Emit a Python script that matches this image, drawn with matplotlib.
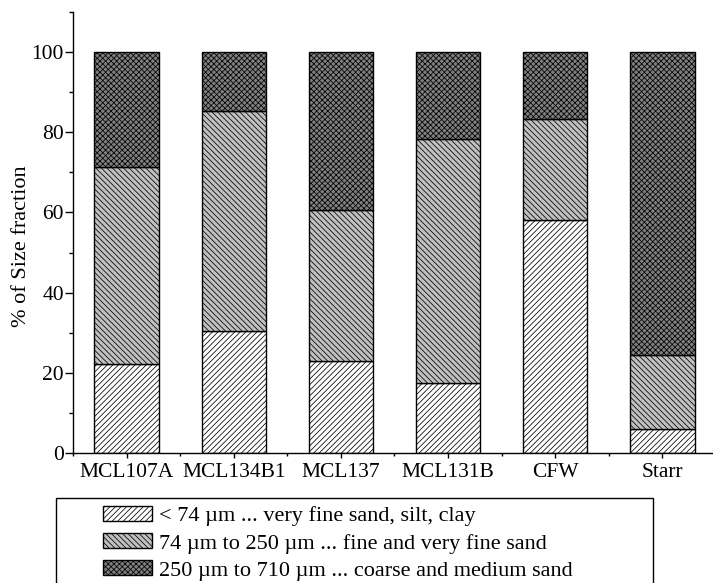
import matplotlib
matplotlib.use("Agg")
import matplotlib.pyplot as plt
from matplotlib.patches import Rectangle
from matplotlib.ticker import MultipleLocator, FixedLocator
import numpy as np

plt.rcParams['font.family'] = ['Liberation Serif', 'DejaVu Serif']
plt.rcParams['hatch.linewidth'] = 0.55

# size fractions (% of sample), stacked bottom to top
samples = ['MCL107A', 'MCL134B1', 'MCL137', 'MCL131B', 'CFW', 'Starr']
fine = [22.1, 30.4, 23.0, 17.5, 58.0, 6.1]          # < 74 um
medium = [49.3, 54.9, 37.6, 60.8, 25.3, 18.4]       # 74-250 um
coarse = [28.6, 14.7, 39.4, 21.7, 16.7, 75.5]       # 250-710 um
labels = ['< 74 µm ... very fine sand, silt, clay',
          '74 µm to 250 µm ... fine and very fine sand',
          '250 µm to 710 µm ... coarse and medium sand']

fig = plt.figure(figsize=(7.13, 5.83), dpi=100)
ax = fig.add_axes([73 / 713, 1 - 453 / 583, 643 / 713, 441 / 583])

x = np.arange(1, len(samples) + 1)
w = 0.6
fine = np.array(fine)
medium = np.array(medium)
coarse = np.array(coarse)

b1 = ax.bar(x, fine, w, color='white', edgecolor='black', hatch='/' * 6,
            linewidth=1, label=labels[0])
b2 = ax.bar(x, medium, w, bottom=fine, color='#c0c0c0', edgecolor='black',
            hatch='\\' * 6, linewidth=1, label=labels[1])
b3 = ax.bar(x, coarse, w, bottom=fine + medium, color='#808080',
            edgecolor='black', hatch='x' * 6, linewidth=1, label=labels[2])

ax.set_xlim(0.5, 6.5)
ax.set_ylim(0, 110)
ax.set_xticks(x)
ax.set_xticklabels(samples, fontsize=15.5)
ax.xaxis.set_minor_locator(FixedLocator(np.arange(0.5, 7, 1.0)))
ax.set_yticks(np.arange(0, 101, 20))
ax.yaxis.set_minor_locator(MultipleLocator(10))
ax.tick_params(axis='y', which='major', direction='out', length=5.5, width=1,
               labelsize=15.5, pad=1)
ax.tick_params(axis='y', which='minor', direction='out', length=3, width=1)
ax.tick_params(axis='x', which='major', direction='out', length=3.6, width=1,
               pad=3.5)
ax.tick_params(axis='x', which='minor', direction='out', length=2.4, width=1)
ax.set_ylabel('% of Size fraction', fontsize=16)
ax.yaxis.set_label_coords(-0.065, 0.47)

for s in ['top', 'right']:
    ax.spines[s].set_visible(False)
for s in ['left', 'bottom']:
    ax.spines[s].set_linewidth(1)

# legend box runs past the bottom edge of the figure
fig.patches.append(Rectangle((56 / 713, -0.1), 597 / 713, 0.1 + 1 - 498 / 583,
                             transform=fig.transFigure, fill=False,
                             edgecolor='black', linewidth=1))
fig.legend([b1, b2, b3], labels, loc='upper left',
           bbox_to_anchor=(103 / 713, 1 - 506 / 583), frameon=False,
           borderpad=0, borderaxespad=0, fontsize=16, handlelength=2.2,
           handleheight=0.68, handletextpad=0.3, labelspacing=0.3)

fig.savefig('out.png', dpi=100)
